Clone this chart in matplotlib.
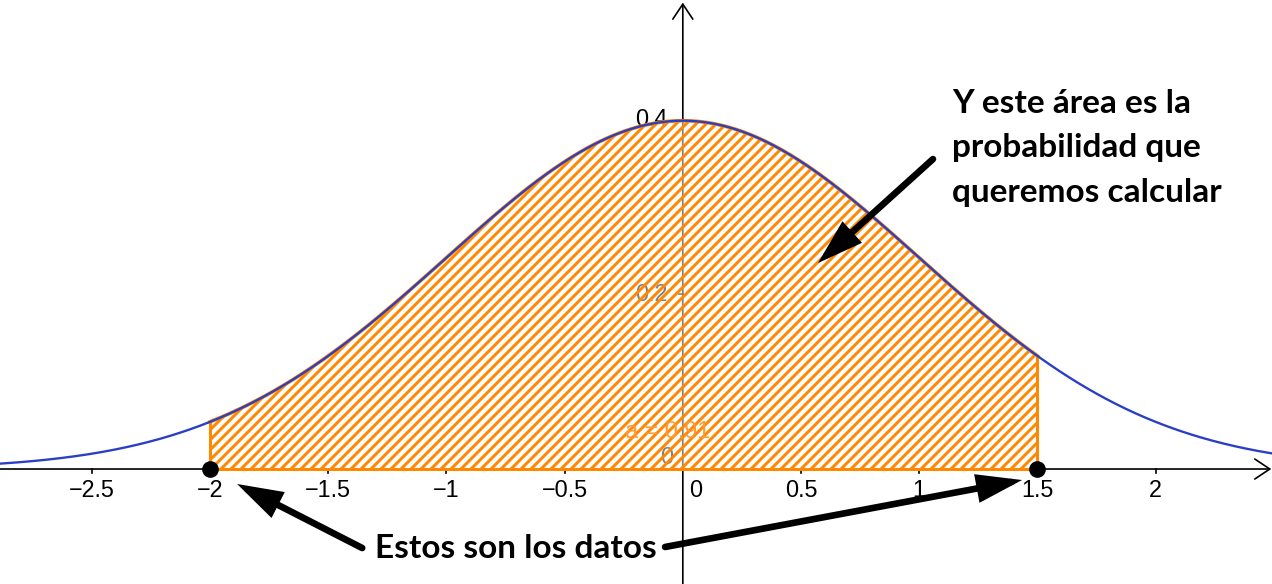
import numpy as np
import matplotlib.pyplot as plt

# normal distribution shown in the chart
mu = 0.0
sigma = 1.0
a_low = -2.0
b_high = 1.5
area_label = 'a = 0.91'

x_ticks = [-2.5, -2, -1.5, -1, -0.5, 0.5, 1, 1.5, 2]
x_labels = ['−2.5', '−2', '−1.5', '−1', '−0.5', '0.5', '1', '1.5', '2']
y_ticks = [0.2, 0.4]
y_labels = ['0.2', '0.4']

note_top = ['Y este área es la', 'probabilidad que', 'queremos calcular']
note_bottom = 'Estos son los datos'

blue = '#2a3fc4'
orange = '#ff8800'

plt.rcParams['hatch.linewidth'] = 1.8
plt.rcParams['hatch.color'] = orange

fig = plt.figure(figsize=(10.6, 584 / 120), dpi=120)
ax = fig.add_axes([0, 0, 1, 1])
ax.axis('off')
x0, x1 = -2.888, 2.492
y0, y1 = -0.1317, 0.5372
ax.set_xlim(x0, x1)
ax.set_ylim(y0, y1)


def pdf(x):
    return np.exp(-0.5 * ((x - mu) / sigma) ** 2) / (sigma * np.sqrt(2 * np.pi))


# axes with open arrow heads
ax.annotate('', xy=(x1 - 0.003, 0), xytext=(x0, 0),
            arrowprops=dict(arrowstyle='->,head_length=0.45,head_width=0.3',
                            lw=1.0, color='black', shrinkA=0, shrinkB=0,
                            mutation_scale=20), zorder=1)
ax.annotate('', xy=(0, y1 - 0.003), xytext=(0, y0),
            arrowprops=dict(arrowstyle='->,head_length=0.45,head_width=0.3',
                            lw=1.0, color='black', shrinkA=0, shrinkB=0,
                            mutation_scale=20), zorder=1)

# ticks
for xt, lab in zip(x_ticks, x_labels):
    ax.plot([xt, xt], [0, -0.005], color='black', lw=1.0, zorder=1)
    ax.text(xt, -0.025, lab, ha='center', va='center', fontsize=14,
            family='Liberation Sans', zorder=1)
ax.text(0.056, -0.025, '0', ha='center', va='center', fontsize=14,
        family='Liberation Sans', zorder=1)
for yt, lab in zip(y_ticks, y_labels):
    ax.plot([0, -0.017], [yt, yt], color='black', lw=1.0, zorder=1)
    ax.text(-0.063, yt, lab, ha='right', va='center', fontsize=14,
            family='Liberation Sans', zorder=1)
ax.text(-0.069, 0.0137, '0', ha='center', va='center', fontsize=14,
        family='Liberation Sans', zorder=1)

# shaded area
xs = np.linspace(a_low, b_high, 400)
ax.fill_between(xs, 0, pdf(xs), facecolor=(1, 1, 1, 0.5), edgecolor=orange,
                hatch='////', linewidth=0, zorder=2)
ax.plot([a_low, a_low], [0, pdf(a_low)], color=orange, lw=1.8, zorder=2.5,
        solid_capstyle='butt')
ax.plot([b_high, b_high], [0, pdf(b_high)], color=orange, lw=1.8, zorder=2.5,
        solid_capstyle='butt')
ax.plot([a_low, b_high], [0, 0], color=orange, lw=1.8, zorder=2.5)
ax.plot(xs, pdf(xs), color=orange, lw=2.2, zorder=2.5)
ax.text(-0.0626, 0.0424, area_label, ha='center', va='center', fontsize=14,
        family='Liberation Sans', color='#ff9933', zorder=2.3)

# density curve
xc = np.linspace(x0, x1, 800)
ax.plot(xc, pdf(xc), color=blue, lw=1.4, zorder=3)

# data points
ax.plot([a_low, b_high], [0, 0], 'o', color='black', ms=9, zorder=4)

# notes and arrows
arrow = dict(arrowstyle='-|>,head_length=0.95,head_width=0.3', lw=4,
             color='black', shrinkA=0, shrinkB=0, mutation_scale=20,
             capstyle='round', joinstyle='miter')
ax.annotate('', xy=(-1.885, -0.0172), xytext=(-1.356, -0.0905),
            arrowprops=arrow, zorder=5)
ax.annotate('', xy=(1.435, -0.0126), xytext=(-0.075, -0.0893),
            arrowprops=arrow, zorder=5)
ax.annotate('', xy=(0.572, 0.236), xytext=(1.058, 0.355),
            arrowprops=arrow, zorder=5)

ax.text(-0.705, -0.102, note_bottom, ha='center', va='baseline', fontsize=20,
        family='Lato', fontweight='bold', zorder=5)
for line, yb in zip(note_top, [0.408, 0.357, 0.306]):
    ax.text(1.139, yb, line, ha='left', va='baseline', fontsize=20,
            family='Lato', fontweight='bold', zorder=5)

fig.savefig('out.png', dpi=120)
